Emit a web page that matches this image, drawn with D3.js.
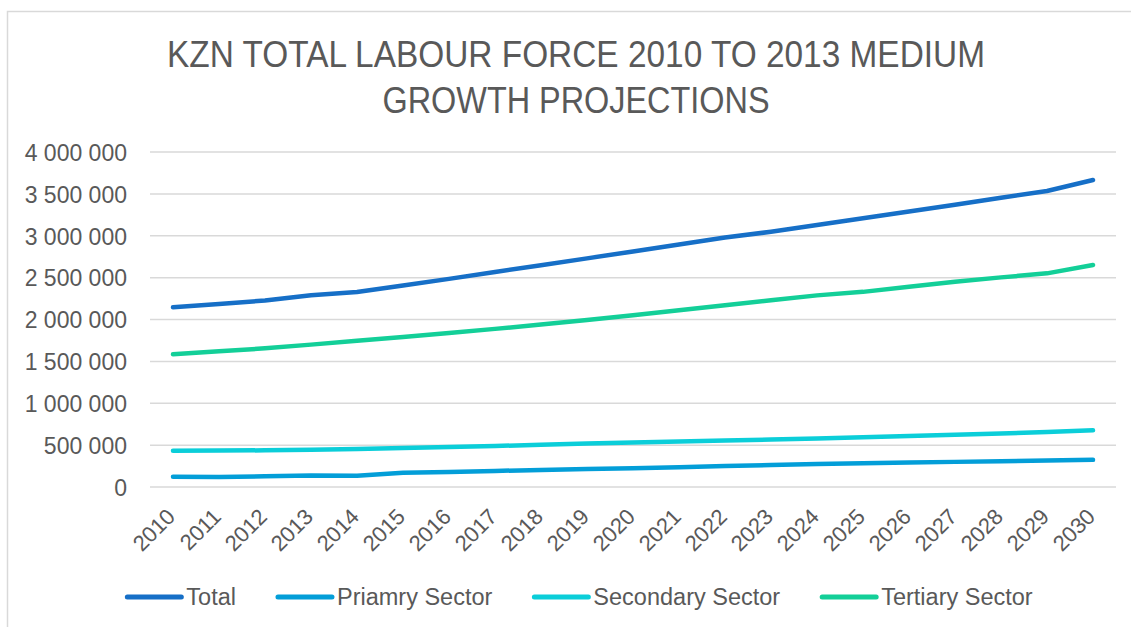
<!DOCTYPE html>
<html>
<head>
<meta charset="utf-8">
<script src="https://cdn.jsdelivr.net/npm/d3@7/dist/d3.min.js"></script>
<style>
  html, body { margin: 0; padding: 0; background: #ffffff; }
  svg { display: block; font-family: "Liberation Sans", Arial, sans-serif; }
</style>
</head>
<body>
<svg id="chart" width="1131" height="627"></svg>
<script>
// Labour force projections, KwaZulu-Natal, 2010-2030 (persons)
const years = ["2010","2011","2012","2013","2014","2015","2016","2017","2018","2019","2020",
               "2021","2022","2023","2024","2025","2026","2027","2028","2029","2030"];

const total = [2146000, 2185000, 2227000, 2290000, 2328000, 2405000, 2485000, 2567000, 2648000, 2730000, 2812000,
               2895000, 2978000, 3048000, 3128000, 3208000, 3290000, 3371000, 3453000, 3534000, 3666000];
const primary = [123000, 118000, 128000, 138000, 135000, 170000, 180000, 192000, 203000, 214000, 225000,
                 237000, 250000, 262000, 274000, 285000, 292000, 300000, 308000, 316000, 324000];
const secondary = [434000, 435000, 438000, 445000, 454000, 465000, 477000, 490000, 504000, 518000, 531000,
                   543000, 554000, 567000, 580000, 594000, 609000, 624000, 639000, 656000, 677000];
const tertiary = [1584000, 1620000, 1656000, 1700000, 1745000, 1790000, 1838000, 1888000, 1940000, 1994000, 2050000,
                  2110000, 2170000, 2230000, 2288000, 2330000, 2392000, 2450000, 2503000, 2551000, 2651000];

const seriesNames = ["Total", "Priamry Sector", "Secondary Sector", "Tertiary Sector"];
const seriesColors = ["#166FC7", "#039ED8", "#0BCED9", "#13CF98"];
const seriesValues = [total, primary, secondary, tertiary];

const yTicks = [0, 500000, 1000000, 1500000, 2000000, 2500000, 3000000, 3500000, 4000000];
const titleLines = ["KZN TOTAL LABOUR FORCE 2010 TO 2013 MEDIUM", "GROWTH PROJECTIONS"];

const textColor = "#595959";
const gridColor = "#D9D9D9";

const svg = d3.select("#chart");
const plot = { left: 150, right: 1116, top: 152, bottom: 487 };

// chart frame (left and top edges)
svg.append("path")
  .attr("d", "M7.5,627 L7.5,11.5 L1131,11.5")
  .attr("fill", "none")
  .attr("stroke", gridColor)
  .attr("stroke-width", 1.5);

// title
const titleWidths = [818, 387];
svg.append("g").selectAll("text")
  .data(titleLines)
  .join("text")
  .attr("x", 576)
  .attr("y", (d, i) => 67 + i * 46)
  .attr("text-anchor", "middle")
  .attr("fill", textColor)
  .attr("font-size", 37)
  .attr("textLength", (d, i) => titleWidths[i])
  .attr("lengthAdjust", "spacingAndGlyphs")
  .text(d => d);

const x = d3.scalePoint().domain(years).range([plot.left, plot.right]).padding(0.5);
const y = d3.scaleLinear().domain([0, 4000000]).range([plot.bottom, plot.top]);

const fmt = v => d3.format(",")(v).replace(/,/g, " ");

// horizontal gridlines
svg.append("g")
  .selectAll("line")
  .data(yTicks)
  .join("line")
  .attr("x1", plot.left).attr("x2", plot.right)
  .attr("y1", d => y(d)).attr("y2", d => y(d))
  .attr("stroke", gridColor)
  .attr("stroke-width", 1.5);

// y axis
const yAxis = svg.append("g")
  .attr("transform", `translate(${plot.left - 23},0)`)
  .call(d3.axisLeft(y).tickValues(yTicks).tickFormat(fmt).tickSize(0).tickPadding(0));
yAxis.select(".domain").remove();
yAxis.selectAll("text")
  .attr("fill", textColor)
  .attr("font-size", 23)
  .attr("font-family", "Liberation Sans, Arial, sans-serif")
  .attr("dy", "0.36em");

// x axis, rotated labels
const xAxis = svg.append("g")
  .attr("transform", `translate(0,${plot.bottom})`)
  .call(d3.axisBottom(x).tickSize(0).tickPadding(0));
xAxis.select(".domain").remove();
xAxis.selectAll(".tick text")
  .attr("fill", textColor)
  .attr("font-size", 22)
  .attr("font-family", "Liberation Sans, Arial, sans-serif")
  .attr("text-anchor", "end")
  .attr("dy", 0)
  .attr("y", 0)
  .attr("transform", "translate(3,31) rotate(-45)");

// series lines
const line = d3.line()
  .x((d, i) => x(years[i]))
  .y(d => y(d));

svg.append("g")
  .selectAll("path")
  .data(seriesValues)
  .join("path")
  .attr("d", d => line(d))
  .attr("fill", "none")
  .attr("stroke", (d, i) => seriesColors[i])
  .attr("stroke-width", 4.5)
  .attr("stroke-linecap", "round")
  .attr("stroke-linejoin", "round");

// legend
const legend = svg.append("g");
const items = legend.selectAll("g")
  .data(seriesNames)
  .join("g");
items.append("line")
  .attr("x1", 0).attr("x2", 54)
  .attr("y1", 597).attr("y2", 597)
  .attr("stroke", (d, i) => seriesColors[i])
  .attr("stroke-width", 5)
  .attr("stroke-linecap", "round");
items.append("text")
  .attr("x", 59)
  .attr("y", 605)
  .attr("fill", textColor)
  .attr("font-size", 23.5)
  .text(d => d);

let cursor = 0;
const offsets = [];
items.each(function () {
  offsets.push(cursor);
  const w = d3.select(this).select("text").node().getComputedTextLength();
  cursor += 59 + w + 42;
});
const legendWidth = cursor - 42;
const legendStart = 580 - legendWidth / 2;
items.attr("transform", (d, i) => `translate(${legendStart + offsets[i]},0)`);
</script>
</body>
</html>
